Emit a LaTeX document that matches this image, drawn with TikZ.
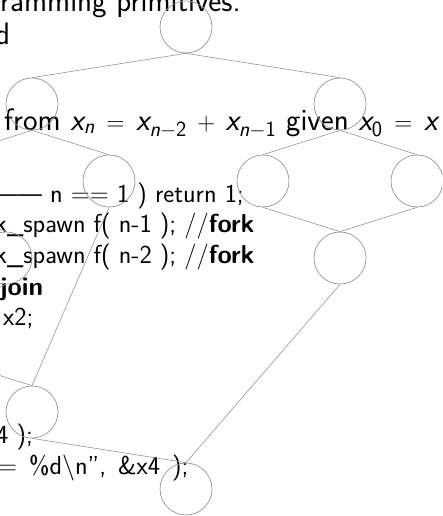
\documentclass[tikz,border=0pt]{standalone}
\usepackage{amsmath}
\usepackage{tikz}
\usetikzlibrary{positioning}
\definecolor{edgegray}{RGB}{150,150,150}
\newcommand{\slidefont}{\fontsize{31}{36}\selectfont\sffamily
  \thickmuskip=8.5mu\medmuskip=7.5mu}
\newcommand{\codefont}{\fontsize{26}{31}\selectfont\sffamily}
\newcommand{\sv}[1]{\textsl{#1}}

\begin{document}
\begin{tikzpicture}[
  x=1pt, y=1pt,
  node distance=77pt and 77pt, on grid,
  vert/.style={circle, draw=edgegray, line width=0.7pt, minimum size=52pt,
               inner sep=0pt},
  edge/.style={draw=edgegray, line width=0.6pt},
  prose/.style={anchor=base west, inner sep=0pt, font=\slidefont},
  code/.style={anchor=base west, inner sep=0pt, font=\codefont},
]
\clip (0,0) rectangle (442,-516);

% Slide text behind the graph
\node[prose] (prim)  at (0,-12)  {ramming primitives.};
\node[prose] (andw)  at (-5,-45)  {d};
\node[prose] (recur) at (4,-130)  {from $\sv{x}_{\sv{n}} = \sv{x}_{\sv{n}-\textsf{2}} + \sv{x}_{\sv{n}-\textsf{1}}$ given $\sv{x}_{\textsf{0}} = \sv{x}$};
\node[code] (base)  at (-7,-202) {\textemdash\textemdash{} n == 1 ) return 1;};
\node[code] (spa)   at (-5,-232) {k\_spawn f( n-1 ); //\textbf{fork}};
\node[code] (spb)   at (-5,-263) {k\_spawn f( n-2 ); //\textbf{fork}};
\node[code] (sync)  at (0,-295)  {\textbf{join}};
\node[code] (ret)   at (3,-325)  {x2;};
\node[code] (call)  at (-4,-443) {4 );};
\node[code] (out)   at (-2,-474) {\spaceskip=12pt = \%d\textbackslash n'', \&x4 );};

% Spawn tree
\node[vert] (root) at (186,-27) {};
\node[vert, below left=77pt and 154pt of root]  (fL)  {};
\node[vert, below right=77pt and 154pt of root] (fR)  {};
\node[vert, below left=of fL]   (fLL) {};
\node[vert, below right=of fL]  (fLR) {};
\node[vert, below left=of fR]   (fRL) {};
\node[vert, below right=of fR]  (fRR) {};
\node[vert, below left=77pt and 51pt of fLL]  (fLLL) {};
\node[vert, below right=77pt and 51pt of fLL] (fLLR) {};

% Joins
\node[vert, below=154pt of fLL] (jLL)   {};
\node[vert, below=154pt of fR]  (jR)    {};
\node[vert, below=308pt of fL]  (jL)    {};
\node[vert, below=462pt of root] (jroot) {};

% Edges
\draw[edge] (root.south) -- (fL.north);
\draw[edge] (root.south) -- (fR.north);
\draw[edge] (fL.south)   -- (fLL.north);
\draw[edge] (fL.south)   -- (fLR.north);
\draw[edge] (fR.south)   -- (fRL.north);
\draw[edge] (fR.south)   -- (fRR.north);
\draw[edge] (fLL.south)  -- (fLLL.north);
\draw[edge] (fLL.south)  -- (fLLR.north);
\draw[edge] (fLLL.south) -- (jLL.north);
\draw[edge] (fLLR.south) -- (jLL.north);
\draw[edge] (fRL.south)  -- (jR.north);
\draw[edge] (fRR.south)  -- (jR.north);
\draw[edge] (fLR.south)  -- (jL.north);
\draw[edge] (jLL.south)  -- (jL.north);
\draw[edge] (jL.south)   -- (jroot.north);
\draw[edge] (jR.south)   -- (jroot.north);

\end{tikzpicture}
\end{document}
